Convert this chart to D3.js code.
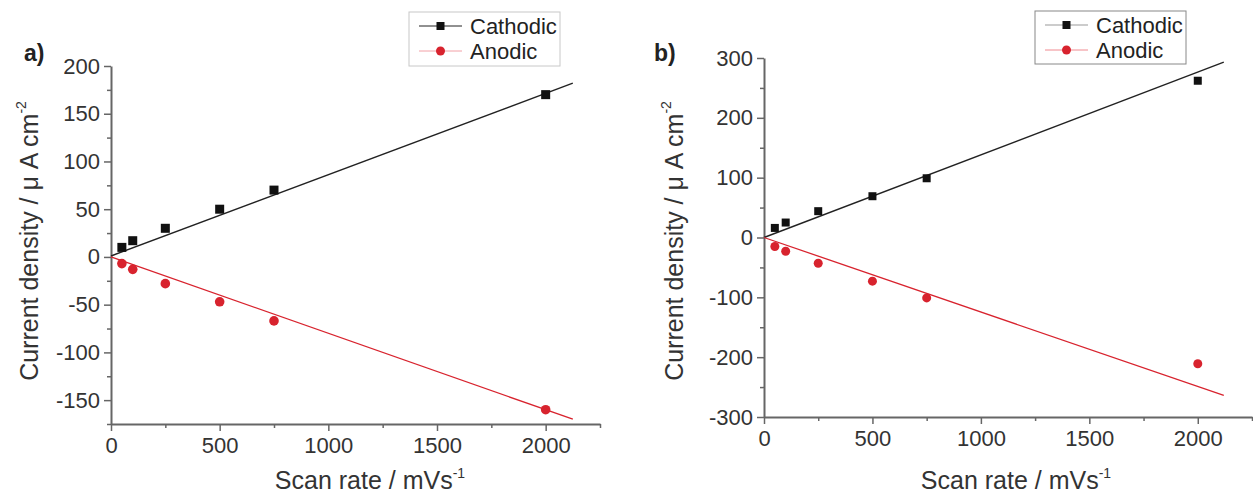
<!DOCTYPE html>
<html lang="en">
<head>
<meta charset="utf-8">
<title>Current density vs scan rate</title>
<script src="https://cdnjs.cloudflare.com/ajax/libs/d3/7.8.5/d3.min.js"></script>
<style>
  body { margin: 0; background: #fff; }
  svg { display: block; font-family: "Liberation Sans", Arial, sans-serif; }
  .tick text { fill: #333; font-size: 22px; }
  .axis path, .axis line { stroke: #666; }
  .axis path { stroke-width: 2px; }
  .lbl { fill: #333; font-size: 25px; }
  .leg { fill: #222; font-size: 22px; }
</style>
</head>
<body>
<div id="chart"></div>
<script>
// scan rates (mV/s)
const scanRates = [50, 100, 250, 500, 750, 2000];

// panel a
const cathodicA = [10, 17, 30, 50, 70, 170];
const anodicA = [-7, -13, -28, -47, -67, -160];
const fitCathA_x = [0, 2125], fitCathA_y = [1, 182];
const fitAnodA_x = [0, 2125], fitAnodA_y = [0, -170];

// panel b
const cathodicB = [16, 25, 44, 69, 99, 262];
const anodicB = [-15, -23, -43, -73, -101, -211];
const fitCathB_x = [0, 2120], fitCathB_y = [0, 293];
const fitAnodB_x = [0, 2120], fitAnodB_y = [0, -264];

const xTicks = [0, 500, 1000, 1500, 2000];
const xMinor = [250, 750, 1250, 1750, 2250];
const yTicksA = [-150, -100, -50, 0, 50, 100, 150, 200];
const yMinorA = [-175, -125, -75, -25, 25, 75, 125, 175];
const yTicksB = [-300, -200, -100, 0, 100, 200, 300];
const yMinorB = [-250, -150, -50, 50, 150, 250];

const W = 1253, H = 495;
const svg = d3.select("#chart").append("svg").attr("width", W).attr("height", H);

const black = "#111", red = "#d8232e";
const fmt = d => String(d);

function panel(o) {
  const x = d3.scaleLinear().domain([0, 2250]).range(o.xr);
  const y = d3.scaleLinear().domain(o.yd).range(o.yr);
  const g = svg.append("g");

  // minor ticks
  g.append("g").attr("class", "axis")
    .attr("transform", "translate(0," + o.yr[0] + ")")
    .call(d3.axisBottom(x).tickValues(xMinor).tickSize(4).tickFormat("").tickSizeOuter(0))
    .select(".domain").remove();
  g.append("g").attr("class", "axis")
    .attr("transform", "translate(" + o.xr[0] + ",0)")
    .call(d3.axisLeft(y).tickValues(o.yMinor).tickSize(4).tickFormat("").tickSizeOuter(0))
    .select(".domain").remove();

  // main axes
  g.append("g").attr("class", "axis")
    .attr("transform", "translate(0," + o.yr[0] + ")")
    .call(d3.axisBottom(x).tickValues(xTicks).tickFormat(fmt).tickSize(7).tickPadding(6).tickSizeOuter(0));
  g.append("g").attr("class", "axis")
    .attr("transform", "translate(" + o.xr[0] + ",0)")
    .call(d3.axisLeft(y).tickValues(o.yTicks).tickFormat(fmt).tickSize(7).tickPadding(4).tickSizeOuter(0));
  g.selectAll(".axis line").attr("stroke-width", 1.5);

  // fit lines
  const line = d3.line().x(d => x(d[0])).y(d => y(d[1]));
  g.append("path").datum(d3.zip(o.fitC[0], o.fitC[1]))
    .attr("d", line).attr("fill", "none").attr("stroke", "#222").attr("stroke-width", 1.4);
  g.append("path").datum(d3.zip(o.fitA[0], o.fitA[1]))
    .attr("d", line).attr("fill", "none").attr("stroke", red).attr("stroke-width", 1.3);

  // markers
  const s = o.sq;
  g.selectAll(".cat").data(d3.zip(scanRates, o.cath)).join("rect")
    .attr("x", d => x(d[0]) - s / 2).attr("y", d => y(d[1]) - s / 2)
    .attr("width", s).attr("height", s).attr("fill", black);
  g.selectAll(".ano").data(d3.zip(scanRates, o.anod)).join("circle")
    .attr("cx", d => x(d[0])).attr("cy", d => y(d[1])).attr("r", o.r).attr("fill", red);

  // panel letter
  g.append("text").attr("x", o.letter[0]).attr("y", o.letter[1])
    .attr("font-size", 23).attr("font-weight", "bold").attr("fill", "#222").text(o.name);

  // axis labels
  const xl = g.append("text").attr("class", "lbl").attr("x", o.xlab[0]).attr("y", o.xlab[1])
    .attr("text-anchor", "middle");
  xl.append("tspan").text("Scan rate / mVs");
  xl.append("tspan").attr("font-size", 14).attr("dy", -11).text("-1");

  const yl = g.append("text").attr("class", "lbl")
    .attr("transform", "translate(" + o.ylab[0] + "," + o.ylab[1] + ") rotate(-90)")
    .attr("text-anchor", "middle");
  yl.append("tspan").text("Current density / \u03bc A cm");
  yl.append("tspan").attr("font-size", 14).attr("dy", -12).text("-2");

  // legend
  const L = o.leg;
  g.append("rect").attr("x", L.x).attr("y", L.y).attr("width", L.w).attr("height", L.h)
    .attr("fill", "#fff").attr("stroke", L.stroke).attr("stroke-width", 1);
  const items = [["Cathodic", L.c1, "sq"], ["Anodic", L.c2, "ci"]];
  items.forEach((it, i) => {
    const cy = L.y + 14 + i * 25;
    g.append("line").attr("x1", L.x + 10).attr("x2", L.x + 53).attr("y1", cy).attr("y2", cy)
      .attr("stroke", it[1]).attr("stroke-width", 1);
    if (it[2] === "sq") {
      g.append("rect").attr("x", L.x + 31.5 - 4).attr("y", cy - 4).attr("width", 8).attr("height", 8).attr("fill", black);
    } else {
      g.append("circle").attr("cx", L.x + 31.5).attr("cy", cy).attr("r", 4.5).attr("fill", red);
    }
    g.append("text").attr("class", "leg").attr("x", L.x + 61).attr("y", cy + 8).text(it[0]);
  });
}

panel({
  name: "a)", letter: [24, 61],
  xr: [111, 600], yr: [424, 66], yd: [-175, 200],
  yTicks: yTicksA, yMinor: yMinorA,
  cath: cathodicA, anod: anodicA,
  fitC: [fitCathA_x, fitCathA_y], fitA: [fitAnodA_x, fitAnodA_y],
  sq: 9, r: 4.8,
  xlab: [370, 489], ylab: [38, 241],
  leg: { x: 409, y: 12, w: 151, h: 54, stroke: "#c8c8c8", c1: "#222", c2: "#f2a0a6" }
});

panel({
  name: "b)", letter: [654, 61],
  xr: [764, 1252], yr: [417, 58], yd: [-300, 300],
  yTicks: yTicksB, yMinor: yMinorB,
  cath: cathodicB, anod: anodicB,
  fitC: [fitCathB_x, fitCathB_y], fitA: [fitAnodB_x, fitAnodB_y],
  sq: 8, r: 4.5,
  xlab: [1016, 489], ylab: [683, 241],
  leg: { x: 1035, y: 11, w: 151, h: 53, stroke: "#888", c1: "#999", c2: "#f08a90" }
});
</script>
</body>
</html>
